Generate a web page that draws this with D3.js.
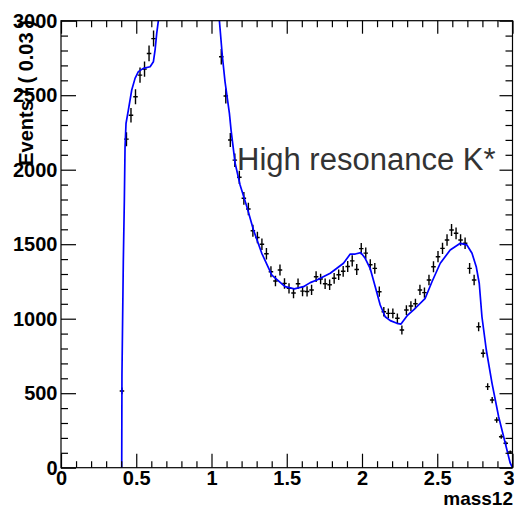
<!DOCTYPE html>
<html>
<head>
<meta charset="utf-8">
<script src="https://cdn.jsdelivr.net/npm/d3@7"></script>
<style>
  html, body { margin: 0; padding: 0; background: #fff; }
  svg { display: block; }
</style>
</head>
<body>
<svg id="plot" width="514" height="509"></svg>
<script>
// Binned data: bin centres (width 0.03) and event counts
const massBins = [
  0.405, 0.435, 0.465, 0.495, 0.525, 0.555, 0.585, 0.615,
  0.645, 0.675, 0.705, 0.735, 0.765, 0.795, 0.825, 0.855, 0.885, 0.915, 0.945, 0.975, 1.005, 1.035,
  1.065, 1.095, 1.125, 1.155, 1.185, 1.215, 1.245, 1.275, 1.305, 1.335, 1.365, 1.395, 1.425, 1.455, 1.485, 1.515, 1.545,
  1.575, 1.605, 1.635, 1.665, 1.695, 1.725, 1.755, 1.785, 1.815, 1.845, 1.875, 1.905, 1.935, 1.965, 1.995, 2.025,
  2.055, 2.085, 2.115, 2.145, 2.175, 2.205, 2.235, 2.265,
  2.295, 2.325, 2.355, 2.385, 2.415, 2.445, 2.475, 2.505, 2.535, 2.565, 2.595, 2.625, 2.655, 2.685,
  2.715, 2.745, 2.775, 2.805, 2.835, 2.865, 2.895, 2.925, 2.955, 2.985
];
const events = [
  515, 2205, 2365, 2490, 2635, 2675, 2780, 2880,
  3080, 3350, 3800, 4400, 5200, 6300, 7600, 8800, 9400, 8700, 6900, 5100, 3800, 3120,
  2758, 2495, 2199, 2064, 1949, 1808, 1736, 1590, 1545, 1500, 1436, 1315, 1253, 1327, 1237, 1204, 1172,
  1235, 1185, 1183, 1193, 1282, 1266, 1235, 1228, 1271, 1295, 1318, 1350, 1388, 1330, 1470, 1440,
  1362, 1338, 1181, 1047, 1036, 1036, 1003, 924,
  1058, 1085, 1100, 1193, 1175, 1260, 1349, 1416, 1472, 1528, 1595, 1573, 1528, 1506,
  1338, 1260, 946, 768, 544, 454, 320, 208, 164, 105
];
const binWidth = 0.03;

// Fitted model curve, sampled along mass12
const fitMass = [
  0.4035, 0.405, 0.414, 0.421, 0.4255, 0.432, 0.4475, 0.470, 0.492, 0.514, 0.547, 0.592, 0.614, 0.625, 0.636, 0.647,
  0.68, 0.72, 0.76, 0.80, 0.84, 0.87, 0.89, 0.91, 0.94, 0.97, 1.00, 1.03,
  1.0525, 1.0725, 1.09, 1.119, 1.13, 1.157, 1.19, 1.235, 1.279, 1.334, 1.401, 1.489, 1.55, 1.611, 1.656, 1.70,
  1.789, 1.877, 1.922, 1.955, 1.993, 2.021, 2.054, 2.088, 2.121, 2.154, 2.188, 2.232, 2.259, 2.30, 2.354, 2.42,
  2.465, 2.52, 2.586, 2.653, 2.697, 2.731, 2.759, 2.779, 2.797, 2.826, 2.864, 2.908, 2.952, 2.985, 3.0
];
const fitValue = [
  0, 620, 1380, 1800, 2150, 2310, 2400, 2535, 2613, 2658, 2680, 2691, 2725, 2803, 2915, 3000,
  3300, 3900, 4900, 6300, 8000, 9000, 9300, 9000, 7700, 5900, 4300, 3400,
  3000, 2758, 2590, 2378, 2266, 2043, 1897, 1752, 1595, 1439, 1293, 1215, 1200, 1215, 1242, 1260,
  1305, 1372, 1434, 1434, 1443, 1405, 1338, 1215, 1092, 1013, 987, 969, 964, 1020, 1070, 1137,
  1248, 1372, 1461, 1506, 1495, 1439, 1349, 1238, 1013, 790, 566, 342, 164, 30, 0
];

// Axis ticks and titles
const xMajorTicks = [0, 0.5, 1, 1.5, 2, 2.5, 3];
const xMinorTicks = d3.range(0, 31).map(i => i / 10).filter(v => Math.abs(v * 2 - Math.round(v * 2)) > 1e-6);
const yMajorTicks = [0, 500, 1000, 1500, 2000, 2500, 3000];
const yMinorTicks = d3.range(0, 3001, 100).filter(v => v % 500 !== 0);
const xTitle = "mass12";
const yTitle = "Events / ( 0.03 )";
const note = "High resonance K*";

const frame = { left: 61, right: 512.5, top: 20.7, bottom: 467.7 };
const svg = d3.select("#plot");

const x = d3.scaleLinear().domain([0, 3]).range([frame.left, frame.right]);
const y = d3.scaleLinear().domain([0, 3000]).range([frame.bottom, frame.top]);

svg.append("rect").attr("width", 514).attr("height", 509).attr("fill", "#fff");

svg.append("clipPath").attr("id", "frameClip")
  .append("rect")
  .attr("x", frame.left).attr("y", frame.top)
  .attr("width", frame.right - frame.left).attr("height", frame.bottom - frame.top);

const plotArea = svg.append("g").attr("clip-path", "url(#frameClip)");

// Data points with Poisson error bars
const points = plotArea.append("g").attr("stroke", "#000").attr("stroke-width", 1.4);
massBins.forEach((c, i) => {
  const v = events[i];
  const err = Math.sqrt(v);
  points.append("line")
    .attr("x1", x(c - binWidth / 2)).attr("x2", x(c + binWidth / 2))
    .attr("y1", y(v)).attr("y2", y(v));
  points.append("line")
    .attr("x1", x(c)).attr("x2", x(c))
    .attr("y1", y(v - err)).attr("y2", y(v + err));
});

// Fit curve
const fitLine = d3.line().x(d => x(d[0])).y(d => y(d[1]));
plotArea.append("path")
  .datum(fitMass.map((m, i) => [m, fitValue[i]]))
  .attr("d", fitLine)
  .attr("fill", "none")
  .attr("stroke", "#0000ff")
  .attr("stroke-width", 1.7)
  .attr("stroke-linejoin", "round");

// Axes: ticks point inward on all four sides
const tickFont = g => g.selectAll("text")
  .attr("font-family", "'Liberation Sans', Arial, Helvetica, sans-serif")
  .attr("font-weight", "bold")
  .attr("font-size", 20)
  .attr("fill", "#000");
const cleanAxis = g => {
  g.select(".domain").remove();
  g.selectAll(".tick line").attr("stroke", "#000").attr("stroke-width", 1.2);
};

svg.append("g").attr("transform", `translate(0,${frame.bottom})`)
  .call(d3.axisBottom(x).tickValues(xMinorTicks).tickSize(-6.5).tickFormat(""))
  .call(cleanAxis);
const xLabels = svg.append("g").attr("transform", `translate(0,${frame.bottom})`)
  .call(d3.axisBottom(x).tickValues(xMajorTicks).tickSize(-14).tickPadding(3.5).tickFormat(d3.format("")))
  .call(cleanAxis).call(tickFont);
// keep the last label inside the page edge
xLabels.selectAll(".tick").filter(d => d === 3).select("text").attr("text-anchor", "end").attr("x", 1.5);

svg.append("g").attr("transform", `translate(0,${frame.top})`)
  .call(d3.axisTop(x).tickValues(xMinorTicks).tickSize(-6.5).tickFormat(""))
  .call(cleanAxis);
svg.append("g").attr("transform", `translate(0,${frame.top})`)
  .call(d3.axisTop(x).tickValues(xMajorTicks).tickSize(-13).tickFormat(""))
  .call(cleanAxis);

svg.append("g").attr("transform", `translate(${frame.left},0)`)
  .call(d3.axisLeft(y).tickValues(yMinorTicks).tickSize(-7).tickFormat(""))
  .call(cleanAxis);
svg.append("g").attr("transform", `translate(${frame.left},0)`)
  .call(d3.axisLeft(y).tickValues(yMajorTicks).tickSize(-15).tickPadding(3.5).tickFormat(d3.format("d")))
  .call(cleanAxis).call(tickFont);

svg.append("g").attr("transform", `translate(${frame.right},0)`)
  .call(d3.axisRight(y).tickValues(yMinorTicks).tickSize(-7).tickFormat(""))
  .call(cleanAxis);
svg.append("g").attr("transform", `translate(${frame.right},0)`)
  .call(d3.axisRight(y).tickValues(yMajorTicks).tickSize(-13).tickFormat(""))
  .call(cleanAxis);

// Frame
svg.append("rect")
  .attr("x", frame.left).attr("y", frame.top)
  .attr("width", frame.right - frame.left).attr("height", frame.bottom - frame.top)
  .attr("fill", "none").attr("stroke", "#000").attr("stroke-width", 1.2);

// Axis titles
svg.append("text")
  .attr("x", 513).attr("y", 505)
  .attr("text-anchor", "end")
  .attr("font-family", "'Liberation Sans', Arial, Helvetica, sans-serif")
  .attr("font-weight", "bold").attr("font-size", 19)
  .text(xTitle);

svg.append("text")
  .attr("transform", `translate(33,${frame.top - 0.5}) rotate(-90)`)
  .attr("text-anchor", "end")
  .attr("font-family", "'Liberation Sans', Arial, Helvetica, sans-serif")
  .attr("font-weight", "bold").attr("font-size", 20)
  .text(yTitle);

// Annotation
svg.append("text")
  .attr("x", 237).attr("y", 170)
  .attr("font-family", "'Liberation Sans', Arial, Helvetica, sans-serif")
  .attr("font-size", 31)
  .attr("fill", "#333")
  .text(note);
</script>
</body>
</html>
